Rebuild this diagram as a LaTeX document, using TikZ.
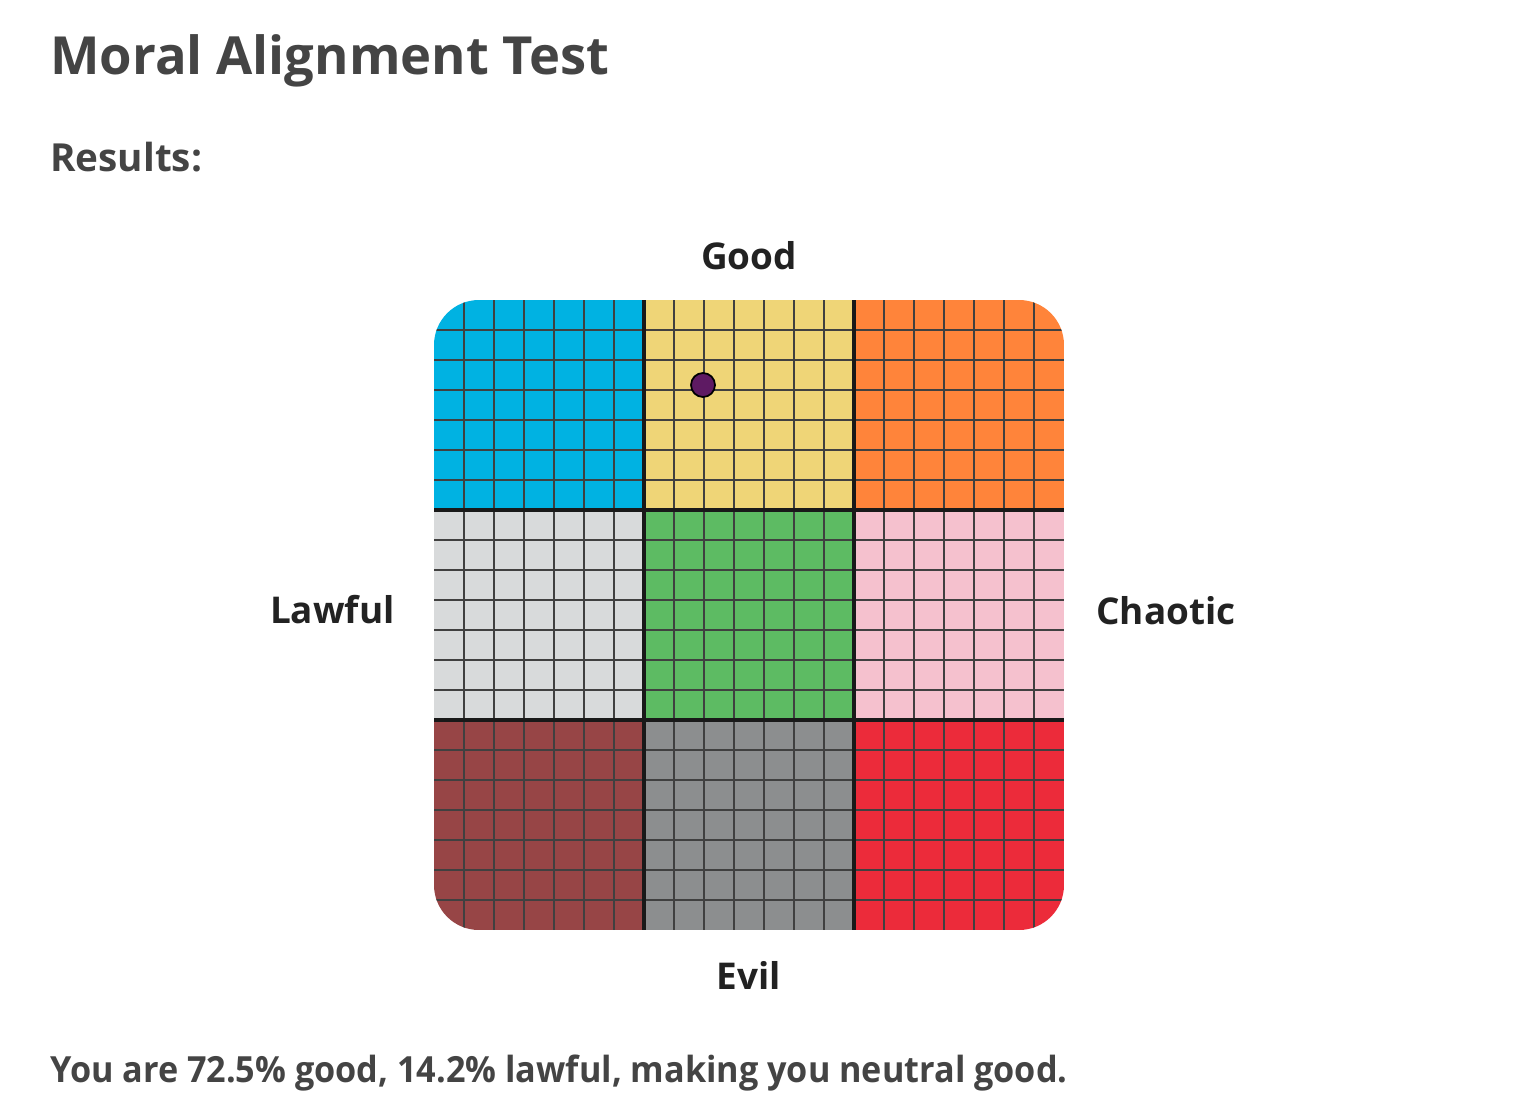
\documentclass[tikz,border=0pt]{standalone}
\usepackage{fontspec}
\setmainfont{Open Sans}
\newfontfamily\verdictfont{Open Sans}[FakeStretch=0.95]
\definecolor{txtgray}{HTML}{444444}
\definecolor{lblblack}{HTML}{222222}
\definecolor{cellblue}{HTML}{00B2E2}
\definecolor{cellyellow}{HTML}{EFD577}
\definecolor{cellorange}{HTML}{FF843A}
\definecolor{cellsilver}{HTML}{D8DADB}
\definecolor{cellgreen}{HTML}{5DBB63}
\definecolor{cellpink}{HTML}{F5C1CE}
\definecolor{cellbrown}{HTML}{974546}
\definecolor{cellgray}{HTML}{8C8E8F}
\definecolor{cellred}{HTML}{EC2B3A}
\definecolor{dotpurple}{HTML}{5E1A63}

\begin{document}
\begin{tikzpicture}[
    x=0.02cm, y=-0.02cm,
    headline/.style={anchor=base west, inner sep=0, text=txtgray,
                     font=\bfseries\fontsize{29.9}{36}\selectfont},
    subline/.style={anchor=base west, inner sep=0, text=txtgray,
                    font=\bfseries\fontsize{22}{26}\selectfont},
    axislbl/.style={inner sep=0, text=lblblack,
                    font=\bfseries\fontsize{21}{25}\selectfont},
    thinrule/.style={line width=0.9pt, black!75},
    thickrule/.style={line width=2pt, black!90},
]
\useasboundingbox[fill=white] (0,0) rectangle (1518,1102);
% --- headings ---
\node[headline] (title) at (50,74) {Moral Alignment Test};
\node[subline] (results) at (50,171) {Results:};
% --- the 3x3 chart ---
\begin{scope}
  \clip[rounded corners=0.9cm] (434,300) rectangle (1064,930);
  \foreach \col/\row/\shade in {0/0/cellblue, 1/0/cellyellow, 2/0/cellorange,
      0/1/cellsilver, 1/1/cellgreen, 2/1/cellpink,
      0/2/cellbrown, 1/2/cellgray, 2/2/cellred}{
    \fill[\shade] ({434+210*\col},{300+210*\row}) rectangle ++(210,210);}
  \foreach \k in {1,...,20}{
    \draw[thinrule] ({434+30*\k},300) -- ++(0,630);
    \draw[thinrule] (434,{300+30*\k}) -- ++(630,0);}
  \foreach \k in {1,2}{
    \draw[thickrule] ({434+210*\k},300) -- ++(0,630);
    \draw[thickrule] (434,{300+210*\k}) -- ++(630,0);}
\end{scope}
\node[circle, fill=dotpurple, draw=black, line width=1pt,
      minimum size=0.48cm, inner sep=0] (you) at (703,385) {};
% --- axis labels ---
\node[axislbl, anchor=base] (good) at (749,269) {Good};
\node[axislbl, anchor=base] (evil) at (749,989) {Evil};
\node[axislbl, anchor=base east] (lawful) at (395,623) {Lawful};
\node[axislbl, anchor=base west] (chaotic) at (1096,624) {Chaotic};
% --- verdict ---
\node[subline, font=\verdictfont\bfseries\fontsize{20.5}{25}\selectfont]
  (verdict) at (50,1082)
  {You are 72.5\% good, 14.2\% lawful, making you neutral good.};
\end{tikzpicture}
\end{document}
